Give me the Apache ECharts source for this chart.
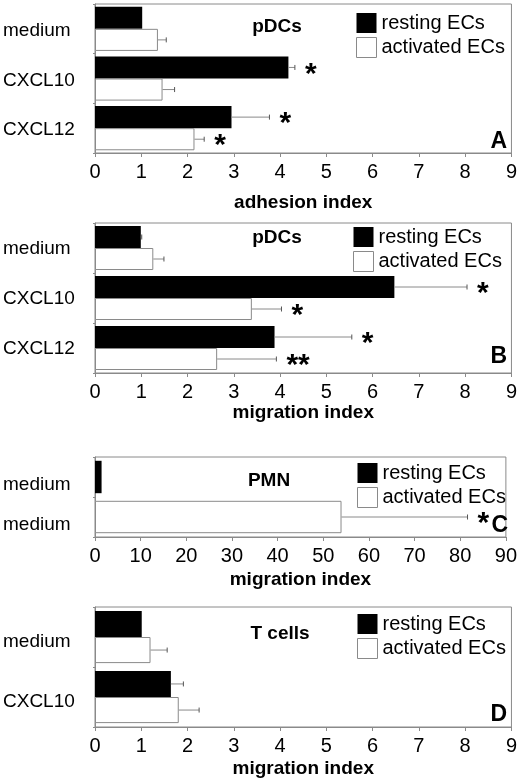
<!DOCTYPE html>
<html>
<head>
<meta charset="utf-8">
<script src="https://cdn.jsdelivr.net/npm/echarts@6/dist/echarts.min.js"></script>
<style>
html, body { margin: 0; padding: 0; background: #fff; }
#main { width: 520px; height: 779px; }
</style>
</head>
<body>
<div id="main"></div>
<script>
// panel A: pDCs adhesion
var catsA = ['medium', 'CXCL10', 'CXCL12'];
var restA = [1.02, 4.18, 2.95];
var restErrA = [0, 0.14, 0.82];
var actA = [1.36, 1.46, 2.15];
var actErrA = [0.18, 0.26, 0.21];
var restStarA = ['', '*', '*'];
var actStarA = ['', '', '*'];

// panel B: pDCs migration
var catsB = ['medium', 'CXCL10', 'CXCL12'];
var restB = [0.99, 6.47, 3.88];
var restErrB = [0.02, 1.57, 1.67];
var actB = [1.26, 3.39, 2.64];
var actErrB = [0.23, 0.64, 1.28];
var restStarB = ['', '*', '*'];
var actStarB = ['', '*', '**'];

// panel C: PMN migration
var catsC = ['medium', 'medium'];
var restC = [1.44, '-'];
var restErrC = [0, 0];
var actC = ['-', 54.0];
var actErrC = [0, 27.6];
var restStarC = ['', ''];
var actStarC = ['', '*'];

// panel D: T cells migration
var catsD = ['medium', 'CXCL10'];
var restD = [1.01, 1.64];
var restErrD = [0, 0.27];
var actD = [1.2, 1.81];
var actErrD = [0.36, 0.44];
var restStarD = ['', ''];
var actStarD = ['', ''];

var xMax = [9, 9, 90, 9];
var xStep = [1, 1, 10, 1];
var xNames = ['adhesion index', 'migration index', 'migration index', 'migration index'];
var panelTitles = ['pDCs', 'pDCs', 'PMN', 'T cells'];
var panelLetters = ['A', 'B', 'C', 'D'];

var FONT = 'Liberation Sans, Arial, sans-serif';
var GREY = '#8a8a8a';

var panels = [
    {cats: catsA, rest: restA, restErr: restErrA, act: actA, actErr: actErrA, restStar: restStarA, actStar: actStarA,
     grid: {left: 93, top: 4, width: 419, height: 149}, gap: 0.11, overlap: false, nameGap: 40, pad: 4,
     legend: [356, 13], title: [277, 27], letter: [507, 142]},
    {cats: catsB, rest: restB, restErr: restErrB, act: actB, actErr: actErrB, restStar: restStarB, actStar: actStarB,
     grid: {left: 93, top: 223, width: 419, height: 150}, gap: 0.12, overlap: false, nameGap: 28, pad: 2,
     legend: [353, 227], title: [277, 238], letter: [507, 357]},
    {cats: catsC, rest: restC, restErr: restErrC, act: actC, actErr: actErrC, restStar: restStarC, actStar: actStarC,
     grid: {left: 94, top: 457, width: 418, height: 80}, gap: 0.19, overlap: true, nameGap: 33, pad: 16,
     legend: [357, 463], title: [269, 481], letter: [508, 526]},
    {cats: catsD, rest: restD, restErr: restErrD, act: actD, actErr: actErrD, restStar: restStarD, actStar: actStarD,
     grid: {left: 93, top: 607, width: 419, height: 120}, gap: 0.13, overlap: false, nameGap: 32, pad: 10,
     legend: [357, 614], title: [280, 634], letter: [507, 715]}
];

function errSeries(i, p, vals, errs, stars, side) {
    var data = vals.map(function (v, k) {
        return typeof v === 'number' ? [v, k, v + errs[k]] : [NaN, k, NaN];
    });
    return {
        type: 'custom',
        name: 'err' + i + side,
        xAxisIndex: i,
        yAxisIndex: i,
        silent: true,
        z: 5,
        encode: {x: [0, 2], y: 1},
        data: data,
        renderItem: function (params, api) {
            var lo = api.value(0), k = api.value(1), hi = api.value(2);
            if (isNaN(lo)) return;
            var band = api.size([0, 1])[1];
            var barW = band * (1 - p.gap) / (p.overlap ? 1 : 2);
            var off = p.overlap ? 0 : side * barW / 2;
            var a = api.coord([lo, k]), b = api.coord([hi, k]);
            var y = a[1] + off;
            var kids = [];
            if (hi > lo) {
                kids.push({type: 'line', shape: {x1: a[0], y1: y, x2: b[0], y2: y},
                    style: {stroke: GREY, lineWidth: 1}});
                kids.push({type: 'line', shape: {x1: b[0], y1: y - 2.5, x2: b[0], y2: y + 2.5},
                    style: {stroke: '#555', lineWidth: 1}});
            }
            var s = stars[params.dataIndex];
            if (s) {
                kids.push({type: 'text', style: {text: s, x: b[0] + 10, y: y + 7,
                    align: 'left', verticalAlign: 'middle', fill: '#000',
                    font: 'bold 30px ' + FONT}});
            }
            return {type: 'group', children: kids};
        }
    };
}

var grids = [], xAxes = [], yAxes = [], series = [], legends = [], graphics = [];

panels.forEach(function (p, i) {
    grids.push(Object.assign({show: true, borderColor: GREY, borderWidth: 1}, p.grid));
    xAxes.push({
        type: 'value', gridIndex: i, min: 0, max: xMax[i], interval: xStep[i],
        name: xNames[i], nameLocation: 'middle', nameGap: p.nameGap,
        nameTextStyle: {fontSize: 19, fontWeight: 'bold', color: '#000', fontFamily: FONT},
        axisLine: {show: true, lineStyle: {color: GREY}},
        axisTick: {show: true, length: 4, lineStyle: {color: GREY}},
        axisLabel: {fontSize: 20, color: '#000', fontFamily: FONT, margin: 9},
        splitLine: {show: false}
    });
    yAxes.push({
        type: 'category', gridIndex: i, data: p.cats, inverse: true,
        axisLine: {show: true, lineStyle: {color: GREY}},
        axisTick: {show: true, length: 2, lineStyle: {color: GREY}},
        axisLabel: {color: '#000', align: 'left', margin: 92,
            formatter: function (v) { return '{c|' + v + '}'; },
            rich: {c: {fontSize: 19, color: '#000', fontFamily: FONT, padding: [p.pad, 0, 0, 0]}}}
    });
    var gapStr = Math.round(p.gap * 100) + '%';
    series.push({
        type: 'bar', name: 'resting ECs', xAxisIndex: i, yAxisIndex: i, data: p.rest,
        barCategoryGap: gapStr, barGap: p.overlap ? '-100%' : '0%',
        itemStyle: {color: '#000'}, silent: true
    });
    series.push({
        type: 'bar', name: 'activated ECs', xAxisIndex: i, yAxisIndex: i, data: p.act,
        barCategoryGap: gapStr, barGap: p.overlap ? '-100%' : '0%',
        itemStyle: {color: '#fff', borderColor: GREY, borderWidth: 1}, silent: true
    });
    series.push(errSeries(i, p, p.rest, p.restErr, p.restStar, -1));
    series.push(errSeries(i, p, p.act, p.actErr, p.actStar, 1));
    legends.push({
        orient: 'vertical', left: p.legend[0], top: p.legend[1], padding: 0,
        itemWidth: 20, itemHeight: 20, itemGap: 4, icon: 'rect', selectedMode: false,
        textStyle: {fontSize: 20, color: '#000', fontFamily: FONT},
        data: [
            {name: 'resting ECs', itemStyle: {color: '#000', borderWidth: 0}},
            {name: 'activated ECs', itemStyle: {color: '#fff', borderColor: GREY, borderWidth: 1}}
        ]
    });
    graphics.push({type: 'text', x: p.title[0], y: p.title[1],
        style: {text: panelTitles[i], align: 'center', verticalAlign: 'middle', fill: '#000',
            font: 'bold 19px ' + FONT}});
    graphics.push({type: 'text', x: p.letter[0], y: p.letter[1],
        style: {text: panelLetters[i], align: 'right', verticalAlign: 'middle', fill: '#000',
            font: 'bold 23px ' + FONT}});
});

var myChart = echarts.init(document.getElementById('main'));

option = {
    animation: false,
    backgroundColor: '#fff',
    grid: grids,
    xAxis: xAxes,
    yAxis: yAxes,
    legend: legends,
    graphic: graphics,
    series: series
};

myChart.setOption(option);
</script>
</body>
</html>
